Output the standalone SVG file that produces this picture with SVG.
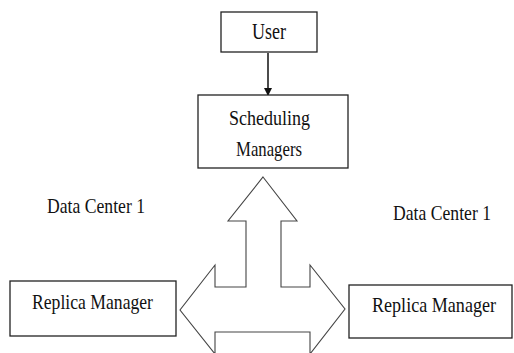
<svg xmlns="http://www.w3.org/2000/svg" width="514" height="353" viewBox="0 0 514 353">
<style>
.box{fill:#fff;stroke:#222;stroke-width:1.3}
.t{font-family:"Liberation Serif","Times New Roman",serif;font-size:22px;fill:#111}
.blk{fill:#fff;stroke:#444;stroke-width:1.1}
</style>
<defs>
<marker id="ah" markerWidth="8" markerHeight="10" refX="7" refY="4" orient="auto" markerUnits="userSpaceOnUse">
<path d="M0,0 L8,4 L0,8 Z" fill="#111"/>
</marker>
</defs>
<rect width="514" height="353" fill="#fff"/>
<g id="connectors">
<line x1="268" y1="53" x2="268" y2="95" stroke="#111" stroke-width="1.5" marker-end="url(#ah)"/>
<path class="blk" d="M263,177 L297,221 L281,221 L281,287 L310,287 L310,265 L345,309 L310,354 L310,332 L215,332 L215,354 L180,310 L215,265 L215,287 L246,287 L246,221 L228,221 Z"/>
</g>
<g id="user">
<rect class="box" x="221" y="12" width="96" height="40"/>
<text class="t" x="252" y="39" style="font-size:23px" textLength="34" lengthAdjust="spacingAndGlyphs">User</text>
</g>
<g id="scheduling">
<rect class="box" x="198" y="95" width="150" height="73"/>
<text class="t" x="229" y="125" textLength="81" lengthAdjust="spacingAndGlyphs">Scheduling</text>
<text class="t" x="236" y="156" textLength="66" lengthAdjust="spacingAndGlyphs">Managers</text>
</g>
<g id="dc-left">
<text class="t" x="47" y="213" textLength="98" lengthAdjust="spacingAndGlyphs">Data Center 1</text>
</g>
<g id="dc-right">
<text class="t" x="393" y="220" textLength="98" lengthAdjust="spacingAndGlyphs">Data Center 1</text>
</g>
<g id="replica-left">
<rect class="box" x="10" y="281" width="166" height="55"/>
<text class="t" x="32" y="309" style="font-size:21px" textLength="121" lengthAdjust="spacingAndGlyphs">Replica Manager</text>
</g>
<g id="replica-right">
<rect class="box" x="349" y="285" width="163" height="53"/>
<text class="t" x="372" y="312" style="font-size:21px" textLength="124" lengthAdjust="spacingAndGlyphs">Replica Manager</text>
</g>
</svg>
